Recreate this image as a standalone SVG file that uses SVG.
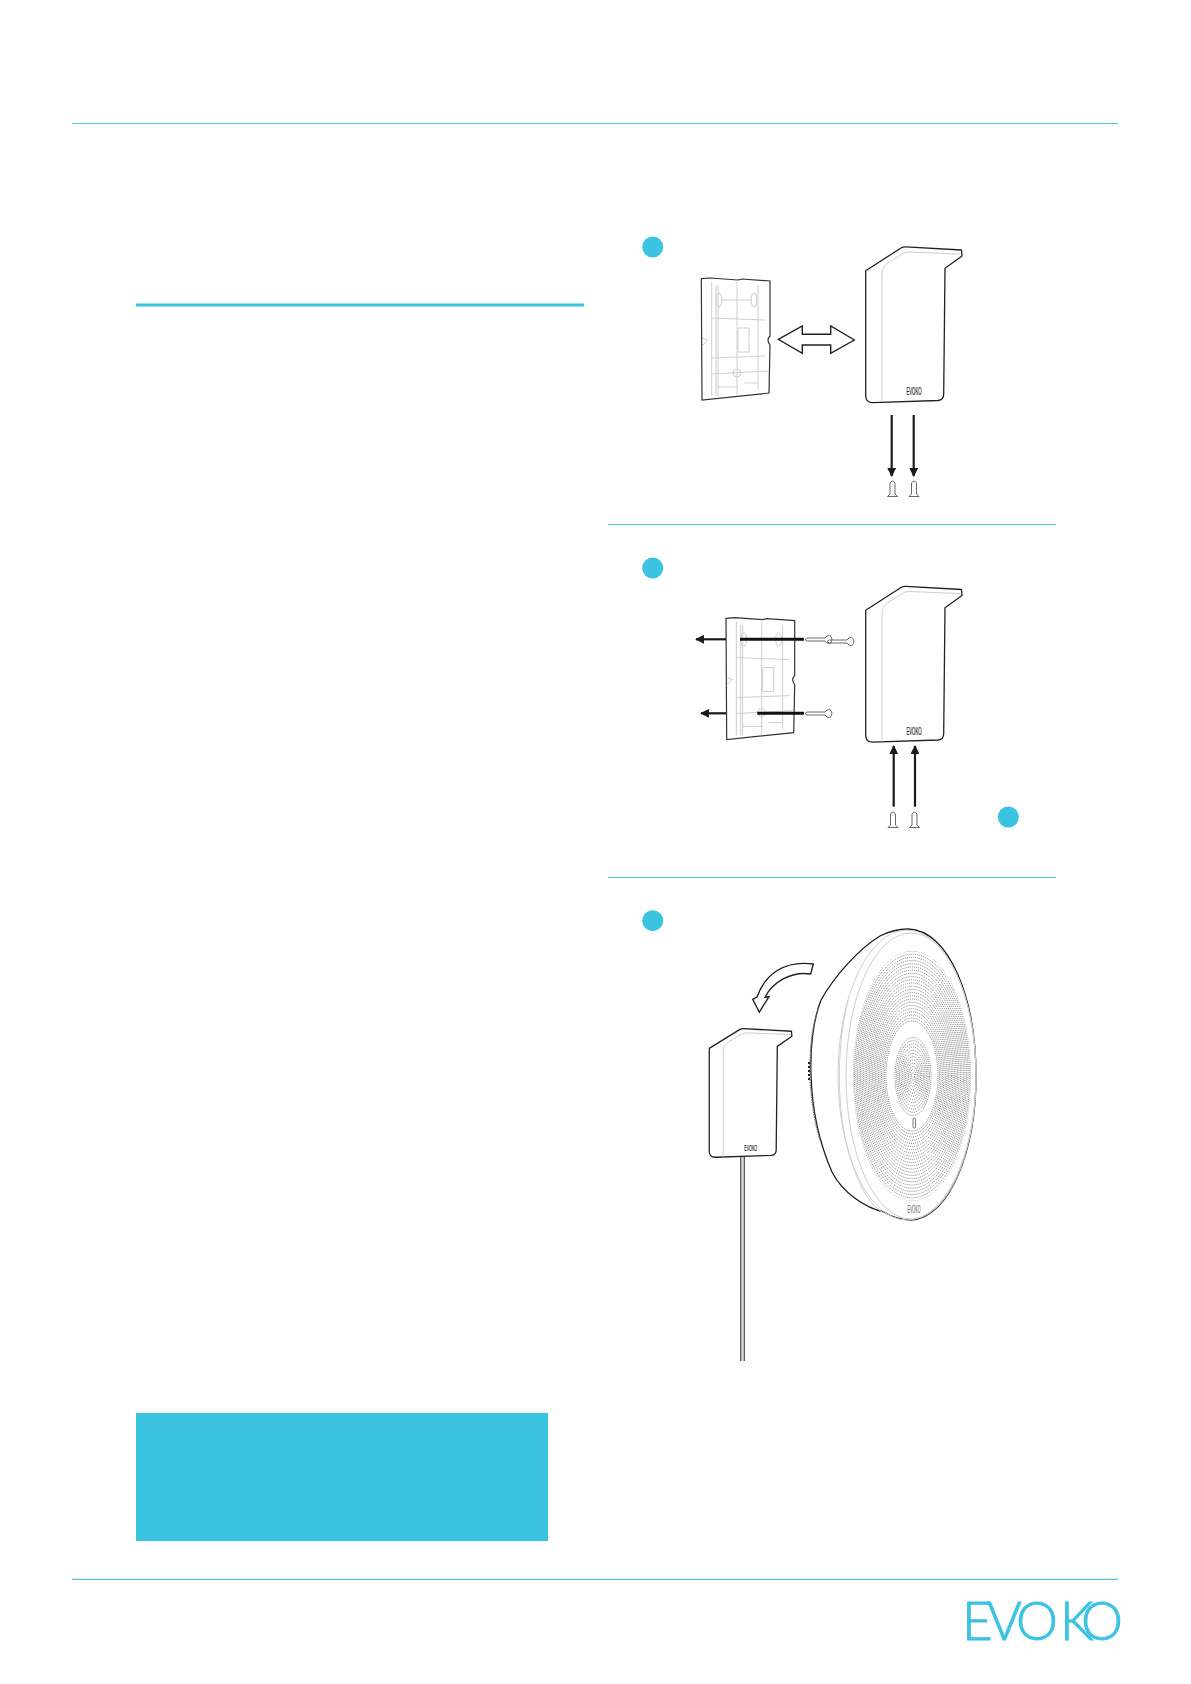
<svg xmlns="http://www.w3.org/2000/svg" width="1191" height="1684" viewBox="0 0 1191 1684">
<style>
.rule{stroke:#55c3d6;stroke-width:1.2;fill:none}
.badge{fill:#3bc3e2}
.dark{fill:none;stroke:#222;stroke-width:1.3;stroke-linejoin:round;vector-effect:non-scaling-stroke}
.soft{fill:none;stroke:#cfcfcf;stroke-width:1;vector-effect:non-scaling-stroke}
.thin{fill:none;stroke:#444;stroke-width:.8;vector-effect:non-scaling-stroke}
.arrow{fill:none;stroke:#1a1a1a;stroke-width:2.2;marker-end:url(#head)}
.bar{fill:none;stroke:#111;stroke-width:3}
.open{fill:#fff;stroke:#222;stroke-width:1.4;stroke-linejoin:miter}
.dots{fill:none;stroke:#6f6f6f;stroke-width:1;stroke-dasharray:.9 1.2}
.dots ellipse:nth-child(3n){stroke-dashoffset:.7}
.dots ellipse:nth-child(3n+1){stroke-dashoffset:1.4}
.mini{font-family:"Liberation Sans",sans-serif;font-size:10px;fill:#222;stroke:#222;stroke-width:.2;text-anchor:middle}
</style>
<defs>
<marker id="head" viewBox="0 0 10 10" refX="9" refY="5" markerWidth="4" markerHeight="4" orient="auto"><path d="M0,0L10,5L0,10Z" fill="#1a1a1a"/></marker>
<g id="bracket">
<path class="dark" fill="#fff" d="M865.7,270.7L901,248Q903,246.7 906,246.8L961.5,250L962,256L945,268.3L943.7,394Q943.7,400 938,400.5L873,402.7Q866,403 865.7,396Z"/>
<path class="soft" d="M882,402V274Q882,267 888,263L904,253Q906,252 910,252L960,254"/>
<text class="mini" x="914" y="395" textLength="15" lengthAdjust="spacingAndGlyphs">EVOKO</text>
</g>
<g id="plate">
<path fill="#fff" stroke="#333" stroke-width="1.2" d="M701.3,278.7L710,278L738,280L742,279L770,281V336Q766,340 770,345L769,393L702,400Z"/>
<path class="soft" d="M711.7,282V396M716,285V396M718,285V396M758,285V390M737,282V395M711,318L765,320M711,358L765,356M711,374L768,371M721,300L752,300M718,387H738M744,383H758M738,328H749V352H738ZM702,338L708,340L702,346"/>
<ellipse class="soft" cx="719" cy="300" rx="3" ry="7"/>
<ellipse class="soft" cx="754" cy="300" rx="3" ry="7"/>
<circle class="soft" cx="737" cy="373" r="4"/>
</g>
<g id="screw">
<path class="thin" fill="#fff" d="M-2.5,13V2Q0,-2 2.5,2V13L5,15.5H-5Z"/>
</g>
<g id="hscrew">
<path class="thin" fill="#fff" d="M0,-1.5H18L20,-3.5Q23,-5 24,-3Q26,0 24,3Q23,5 20,3.5L18,1.5H0L-2,0Z"/>
</g>
<clipPath id="dotclip"><ellipse cx="912" cy="1076" rx="59" ry="125"/></clipPath>
</defs>

<rect width="1191" height="1684" fill="#fff"/>

<g id="page-rules">
<path class="rule" d="M72,123.5H1118"/>
<path d="M136,305H584" fill="none" stroke="#3bc3e2" stroke-width="3"/>
<path class="rule" d="M608,524.5H1056"/>
<path class="rule" d="M608,877.5H1056"/>
<path class="rule" d="M72,1579.3H1118"/>
</g>
<g id="callout"><rect x="136" y="1413" width="412" height="128" fill="#3bc3e2"/></g>
<g id="logo"><text x="962 987 1016 1060 1081" y="1639.5" font-family="Lato,'Liberation Sans',sans-serif" font-weight="300" font-size="53" fill="#3bc3e2" stroke="#3bc3e2" stroke-width=".9">EVOKO</text></g>

<g id="badge-1"><circle class="badge" cx="652.7" cy="247" r="10.5"/></g>
<g id="badge-2"><circle class="badge" cx="652.7" cy="568" r="10.5"/></g>
<g id="badge-4"><circle class="badge" cx="1008.3" cy="817" r="10.5"/></g>
<g id="badge-3"><circle class="badge" cx="652.7" cy="920.7" r="10.5"/></g>

<g id="plate-1"><use href="#plate"/></g>
<g id="bracket-1"><use href="#bracket"/></g>
<g id="plate-2"><use href="#plate" transform="translate(24.7,339.6)"/></g>
<g id="bracket-2"><use href="#bracket" transform="translate(0,339.5)"/></g>
<g id="bracket-3"><use href="#bracket" transform="translate(-33.5,825) scale(.858,.825)"/></g>

<g id="screws-1">
<use href="#screw" transform="translate(892.5,481)"/>
<use href="#screw" transform="translate(914,481)"/>
</g>
<g id="screws-2">
<use href="#screw" transform="translate(893,812)"/>
<use href="#screw" transform="translate(914.5,812)"/>
<use href="#hscrew" transform="translate(807,639.5)"/>
<use href="#hscrew" transform="translate(829,641.5)"/>
<use href="#hscrew" transform="translate(807,713.5)"/>
</g>

<g id="speaker">
<path fill="#fff" stroke="#1c1c1c" stroke-width="1.3" d="M880,936C860,948 835,975 821,1000C813,1020 810,1050 811,1075C812,1110 818,1140 832,1172C842,1192 865,1208 884,1212C892,1217 902,1220 911,1220C950,1218 976,1150 976,1076C976,1000 950,930 908,929C898,929 888,932 880,936Z"/>
<path fill="none" stroke="#777" stroke-width="1.4" stroke-dasharray="1.5 1" d="M818,1010C811,1030 810,1050 810,1075C811,1100 814,1120 820,1140"/>
<path fill="none" stroke="#222" stroke-width="2" stroke-dasharray="2 2" d="M809,1062V1082"/>
<ellipse class="soft" cx="907" cy="1075" rx="69" ry="145"/>
<ellipse class="soft" cx="911" cy="1076" rx="65" ry="143"/>
<path class="soft" d="M848,1000C838,1040 835,1100 848,1150C856,1180 868,1205 884,1213"/>
<g clip-path="url(#dotclip)" class="dots">
<ellipse cx="912" cy="1076" rx="59" ry="125"/><ellipse cx="912" cy="1076" rx="57.5" ry="121.8"/><ellipse cx="912" cy="1076" rx="56" ry="118.6"/><ellipse cx="912" cy="1076" rx="54.5" ry="115.4"/><ellipse cx="912" cy="1076" rx="53" ry="112.2"/><ellipse cx="912" cy="1076" rx="51.5" ry="109"/><ellipse cx="912" cy="1076" rx="50" ry="105.8"/><ellipse cx="912" cy="1076" rx="48.5" ry="102.6"/><ellipse cx="912" cy="1076" rx="47" ry="99.4"/><ellipse cx="912" cy="1076" rx="45.5" ry="96.2"/><ellipse cx="912" cy="1076" rx="44" ry="93"/><ellipse cx="912" cy="1076" rx="42.5" ry="89.8"/><ellipse cx="912" cy="1076" rx="41" ry="86.6"/><ellipse cx="912" cy="1076" rx="39.5" ry="83.4"/><ellipse cx="912" cy="1076" rx="38" ry="80.2"/><ellipse cx="912" cy="1076" rx="36.5" ry="77"/><ellipse cx="912" cy="1076" rx="35" ry="73.8"/><ellipse cx="912" cy="1076" rx="33.5" ry="70.6"/><ellipse cx="912" cy="1076" rx="32" ry="67.4"/><ellipse cx="912" cy="1076" rx="30.5" ry="64.2"/><ellipse cx="912" cy="1076" rx="29" ry="61"/><ellipse cx="912" cy="1076" rx="27.5" ry="57.8"/><ellipse cx="912" cy="1076" rx="26" ry="55"/>
<ellipse cx="913" cy="1076.5" rx="18" ry="39"/><ellipse cx="913" cy="1076.5" rx="16.5" ry="35.8"/><ellipse cx="913" cy="1076.5" rx="15" ry="32.6"/><ellipse cx="913" cy="1076.5" rx="13.5" ry="29.4"/><ellipse cx="913" cy="1076.5" rx="12" ry="26.2"/><ellipse cx="913" cy="1076.5" rx="10.5" ry="23"/><ellipse cx="913" cy="1076.5" rx="9" ry="19.8"/><ellipse cx="913" cy="1076.5" rx="7.5" ry="16.6"/><ellipse cx="913" cy="1076.5" rx="6" ry="13.4"/><ellipse cx="913" cy="1076.5" rx="4.5" ry="10.2"/><ellipse cx="913" cy="1076.5" rx="3" ry="7"/><ellipse cx="913" cy="1076.5" rx="1.5" ry="3.8"/>
</g>
<rect x="913" y="1118" width="2.6" height="10" rx="1.3" fill="#fff" stroke="#555" stroke-width=".8"/>
<text class="mini" x="914" y="1213" style="fill:#555;stroke:none" textLength="13" lengthAdjust="spacingAndGlyphs">EVOKO</text>
</g>

<g id="cable">
<rect x="740.5" y="1157" width="4" height="204" fill="#ddd"/>
<path d="M740.7,1157V1361M744.3,1157V1361" fill="none" stroke="#444" stroke-width="1.1"/>
</g>

<g id="connectors">
<path class="open" d="M813.3,964C783,960 765,975 757,997L752.7,999.3L759.3,1012L769,996.7L765,997.3C772,983 790,971 810.7,974Z"/>
<path class="open" d="M778.3,339.3L802.3,326V334.3H830.7V326L854.3,340L830.7,353.3V345H802.3V353.3Z"/>
<path class="arrow" d="M891.7,415V476"/>
<path class="arrow" d="M913.7,415V476"/>
<path class="arrow" d="M893.7,806.7V746"/>
<path class="arrow" d="M915,806.7V746"/>
<path class="arrow" d="M726,639.3H696"/>
<path class="arrow" d="M726,713.3H701"/>
<path class="bar" d="M740,639.3H804"/>
<path class="bar" d="M757.3,713.3H804"/>
</g>
</svg>
